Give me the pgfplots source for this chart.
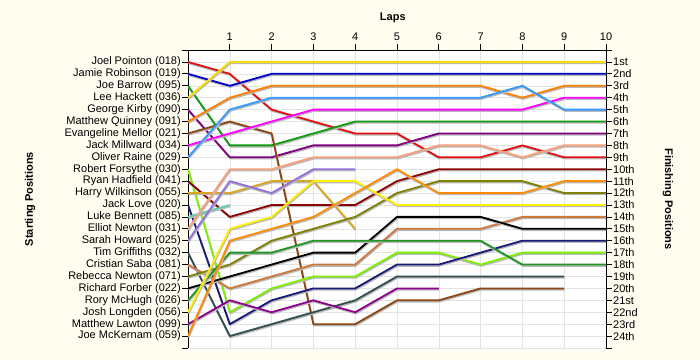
\documentclass[border=0pt]{standalone}
\usepackage{fontspec}
\setmainfont{Liberation Sans}
\usepackage{pgfplots}
\pgfplotsset{compat=1.18}

\definecolor{bgc}{RGB}{255,252,240}
\definecolor{cRed}{RGB}{228,16,16}
\definecolor{cBlue}{RGB}{0,0,205}
\definecolor{cGreen}{RGB}{16,155,16}
\definecolor{cGold}{RGB}{250,222,0}
\definecolor{cPurple}{RGB}{128,0,128}
\definecolor{cOrange}{RGB}{255,128,0}
\definecolor{cBrown}{RGB}{139,69,19}
\definecolor{cMagenta}{RGB}{255,0,255}
\definecolor{cLightBlue}{RGB}{51,153,255}
\definecolor{cLawn}{RGB}{124,240,0}
\definecolor{cDarkRed}{RGB}{139,0,0}
\definecolor{cGoldenrod}{RGB}{218,165,32}
\definecolor{cNavy}{RGB}{25,25,120}
\definecolor{cAqua}{RGB}{102,205,170}
\definecolor{cSalmon}{RGB}{250,160,122}
\definecolor{cLavender}{RGB}{147,112,219}
\definecolor{cSlate}{RGB}{47,79,79}
\definecolor{cPeru}{RGB}{205,120,60}
\definecolor{cOlive}{RGB}{128,128,0}
\definecolor{cGreenB}{RGB}{34,150,34}
\definecolor{cYellow}{RGB}{255,240,0}
\definecolor{cPurpleB}{RGB}{140,0,140}
\definecolor{cOrangeB}{RGB}{255,140,0}

\pgfplotsset{
  lap/.style={line width=1.8pt, line join=round,
    preaction={draw=black!28, line width=1.8pt,
      transform canvas={xshift=0.6pt,yshift=-1.3pt}}},
  frame/.style={
    at={(188pt,12pt)}, anchor=south west,
    scale only axis, width=418pt, height=298pt,
    xmin=0, xmax=10, ymin=0, ymax=25, y dir=reverse,
    ytick={0,...,25},
    tick align=outside, major tick length=6pt,
    tick style={black, line width=0.7pt},
    axis line style={black, line width=1pt},
    ticklabel style={font=\fontsize{11}{12}\selectfont},
    yticklabel style={inner xsep=1pt},
    /pgf/number format/assume math mode=true,
  }
}

\begin{document}
\begin{tikzpicture}
\path[use as bounding box, fill=bgc] (0,0) rectangle (700pt,360pt);

\begin{axis}[frame,
  axis x line*=top, axis y line*=left,
  xtick={1,...,10},
  yticklabels={{},Joel Pointon (018),Jamie Robinson (019),Joe Barrow (095),Lee Hackett (036),George Kirby (090),Matthew Quinney (091),Evangeline Mellor (021),Jack Millward (034),Oliver Raine (029),Robert Forsythe (030),Ryan Hadfield (041),Harry Wilkinson (055),Jack Love (020),Luke Bennett (085),Elliot Newton (031),Sarah Howard (025),Tim Griffiths (032),Cristian Saba (081),Rebecca Newton (071),Richard Forber (022),Rory McHugh (026),Josh Longden (056),Matthew Lawton (099),Joe McKernam (059),{}},
  grid=major, grid style={color=black!11, line width=0.5pt},
  axis background/.style={fill=white},
  no marks,
]
% Joel Pointon
\addplot[lap, cRed] coordinates {(0,1)(1,2)(2,5)(3,6)(4,7)(5,7)(6,9)(7,9)(8,8)(9,9)(10,9)};
% Jamie Robinson
\addplot[lap, cBlue] coordinates {(0,2)(1,3)(2,2)(3,2)(4,2)(5,2)(6,2)(7,2)(8,2)(9,2)(10,2)};
% Joe Barrow
\addplot[lap, cGreen] coordinates {(0,3)(1,8)(2,8)(3,7)(4,6)(5,6)(6,6)(7,6)(8,6)(9,6)(10,6)};
% Lee Hackett
\addplot[lap, cGold] coordinates {(0,4)(1,1)(2,1)(3,1)(4,1)(5,1)(6,1)(7,1)(8,1)(9,1)(10,1)};
% George Kirby
\addplot[lap, cPurple] coordinates {(0,5)(1,9)(2,9)(3,8)(4,8)(5,8)(6,7)(7,7)(8,7)(9,7)(10,7)};
% Matthew Quinney
\addplot[lap, cOrange] coordinates {(0,6)(1,4)(2,3)(3,3)(4,3)(5,3)(6,3)(7,3)(8,4)(9,3)(10,3)};
% Evangeline Mellor
\addplot[lap, cBrown] coordinates {(0,7)(1,6)(2,7)(3,23)(4,23)(5,21)(6,21)(7,20)(8,20)(9,20)};
% Jack Millward
\addplot[lap, cMagenta] coordinates {(0,8)(1,7)(2,6)(3,5)(4,5)(5,5)(6,5)(7,5)(8,5)(9,4)(10,4)};
% Oliver Raine
\addplot[lap, cLightBlue] coordinates {(0,9)(1,5)(2,4)(3,4)(4,4)(5,4)(6,4)(7,4)(8,3)(9,5)(10,5)};
% Robert Forsythe
\addplot[lap, cLawn] coordinates {(0,10)(1,22)(2,20)(3,19)(4,19)(5,17)(6,17)(7,18)(8,17)(9,17)(10,17)};
% Ryan Hadfield
\addplot[lap, cDarkRed] coordinates {(0,11)(1,14)(2,13)(3,13)(4,13)(5,11)(6,10)(7,10)(8,10)(9,10)(10,10)};
% Harry Wilkinson
\addplot[lap, cGoldenrod] coordinates {(0,12)(1,12)(2,11)(3,11)(4,15)};
% Jack Love
\addplot[lap, cNavy] coordinates {(0,13)(1,23)(2,21)(3,20)(4,20)(5,18)(6,18)(7,17)(8,16)(9,16)(10,16)};
% Luke Bennett
\addplot[lap, cAqua] coordinates {(0,14)(1,13)};
% Elliot Newton
\addplot[lap, cSalmon] coordinates {(0,15)(1,10)(2,10)(3,9)(4,9)(5,9)(6,8)(7,8)(8,9)(9,8)(10,8)};
% Sarah Howard
\addplot[lap, cLavender] coordinates {(0,16)(1,11)(2,12)(3,10)(4,10)};
% Tim Griffiths
\addplot[lap, cSlate] coordinates {(0,17)(1,24)(2,23)(3,22)(4,21)(5,19)(6,19)(7,19)(8,19)(9,19)};
% Cristian Saba
\addplot[lap, cPeru] coordinates {(0,18)(1,20)(2,19)(3,18)(4,18)(5,15)(6,15)(7,15)(8,14)(9,14)(10,14)};
% Rebecca Newton
\addplot[lap, cOlive] coordinates {(0,19)(1,18)(2,16)(3,15)(4,14)(5,12)(6,11)(7,11)(8,11)(9,12)(10,12)};
% Richard Forber
\addplot[lap, black] coordinates {(0,20)(1,19)(2,18)(3,17)(4,17)(5,14)(6,14)(7,14)(8,15)(9,15)(10,15)};
% Rory McHugh
\addplot[lap, cGreenB] coordinates {(0,21)(1,17)(2,17)(3,16)(4,16)(5,16)(6,16)(7,16)(8,18)(9,18)(10,18)};
% Josh Longden
\addplot[lap, cYellow] coordinates {(0,22)(1,15)(2,14)(3,11)(4,11)(5,13)(6,13)(7,13)(8,13)(9,13)(10,13)};
% Matthew Lawton
\addplot[lap, cPurpleB] coordinates {(0,23)(1,21)(2,22)(3,21)(4,22)(5,20)(6,20)};
% Joe McKernam
\addplot[lap, cOrangeB] coordinates {(0,24)(1,16)(2,15)(3,14)(4,12)(5,10)(6,12)(7,12)(8,12)(9,11)(10,11)};
\end{axis}

\begin{axis}[frame,
  axis x line=none, axis y line*=right,
  yticklabels={{},1st,2nd,3rd,4th,5th,6th,7th,8th,9th,10th,11th,12th,13th,14th,15th,16th,17th,18th,19th,20th,21st,22nd,23rd,24th,{}},
  clip=false,
]
\node[font=\fontsize{11}{12}\selectfont\bfseries] at ([yshift=32pt]axis cs:4.9,0) {Laps};
\node[font=\fontsize{11}{12}\selectfont\bfseries, rotate=90] at ([xshift=-158pt]axis cs:0,12.5) {Starting Positions};
\node[font=\fontsize{11}{12}\selectfont\bfseries, rotate=-90] at ([xshift=62pt]axis cs:10,12.5) {Finishing Positions};
\end{axis}
\end{tikzpicture}
\end{document}
